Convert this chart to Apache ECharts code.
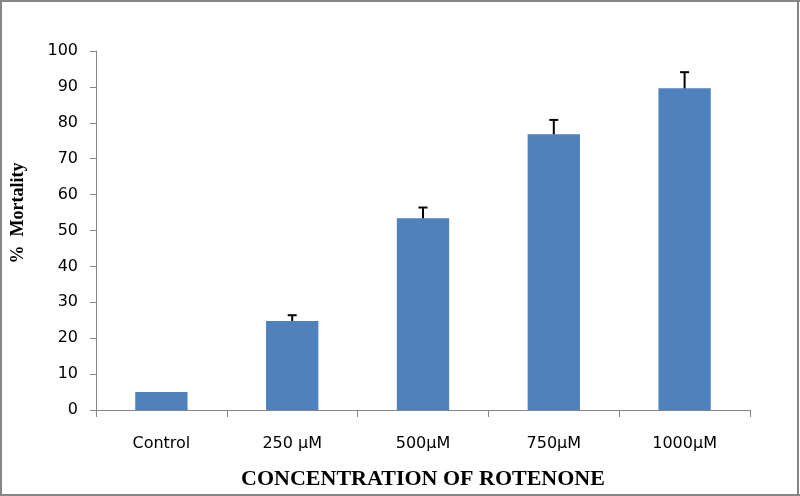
<!DOCTYPE html>
<html>
<head>
<meta charset="utf-8">
<script src="https://cdn.jsdelivr.net/npm/echarts@6/dist/echarts.min.js"></script>
<style>
html,body{margin:0;padding:0;background:#fff;}
#c{width:800px;height:496px;}
</style>
</head>
<body>
<div id="c"></div>
<script>
const categories = ['Control', '250 µM', '500µM', '750µM', '1000µM'];
const mortality = [5, 24.8, 53.4, 76.8, 89.6];
const errorUpper = [5, 26.4, 56.4, 80.8, 94.1];
const yTicks = [0, 10, 20, 30, 40, 50, 60, 70, 80, 90, 100];
const xTitle = 'CONCENTRATION OF ROTENONE';
const yTitle = '%  Mortality';

const chart = echarts.init(document.getElementById('c'), null, {renderer: 'canvas'});
const axisGray = '#868686';
chart.setOption({
  animation: false,
  backgroundColor: '#fff',
  graphic: [
    {type: 'line', shape: {x1: 0, y1: 1, x2: 800, y2: 1}, style: {stroke: axisGray, lineWidth: 2}, silent: true, z: 100},
    {type: 'line', shape: {x1: 0, y1: 495, x2: 800, y2: 495}, style: {stroke: axisGray, lineWidth: 2}, silent: true, z: 100},
    {type: 'line', shape: {x1: 1, y1: 0, x2: 1, y2: 496}, style: {stroke: axisGray, lineWidth: 2}, silent: true, z: 100},
    {type: 'line', shape: {x1: 798, y1: 0, x2: 798, y2: 496}, style: {stroke: axisGray, lineWidth: 2}, silent: true, z: 100},
    {type: 'text', x: 423, y: 479, style: {text: xTitle, fontFamily: 'Liberation Serif', fontWeight: 'bold', fontSize: 22, fill: '#000', align: 'center', verticalAlign: 'middle'}, silent: true},
    {type: 'text', x: 18, y: 213, rotation: Math.PI / 2, style: {text: yTitle, fontFamily: 'Liberation Serif', fontWeight: 'bold', fontSize: 18, fill: '#000', align: 'center', verticalAlign: 'middle'}, silent: true}
  ],
  grid: {left: 96, right: 50, top: 51, bottom: 86, containLabel: false, outerBoundsMode: 'none'},
  xAxis: {
    type: 'category',
    data: categories,
    axisLine: {lineStyle: {color: axisGray, width: 1}},
    axisTick: {show: true, alignWithLabel: false, length: 7, lineStyle: {color: axisGray}},
    axisLabel: {fontFamily: 'DejaVu Sans', fontSize: 16, color: '#000', margin: 26}
  },
  yAxis: {
    type: 'value',
    min: yTicks[0], max: yTicks[yTicks.length - 1], interval: 10,
    axisLine: {show: true, lineStyle: {color: axisGray, width: 1}},
    axisTick: {show: true, length: 6, lineStyle: {color: axisGray}},
    axisLabel: {fontFamily: 'DejaVu Sans', fontSize: 16, color: '#000', margin: 18},
    splitLine: {show: false}
  },
  series: [{
    type: 'bar',
    data: mortality,
    barWidth: '40%',
    itemStyle: {color: '#4f81bd'}
  }, {
    type: 'custom',
    data: categories.map((c, i) => [i, mortality[i], errorUpper[i]]),
    renderItem: function (params, api) {
      const x = api.value(0);
      const low = api.coord([x, api.value(1)]);
      const high = api.coord([x, api.value(2)]);
      if (Math.abs(low[1] - high[1]) < 0.5) return null;
      const hw = 4.5;
      return {
        type: 'group',
        children: [
          {type: 'line', shape: {x1: low[0], y1: low[1], x2: high[0], y2: high[1]}, style: {stroke: '#000', lineWidth: 2}},
          {type: 'line', shape: {x1: high[0] - hw, y1: high[1], x2: high[0] + hw, y2: high[1]}, style: {stroke: '#000', lineWidth: 2}}
        ]
      };
    },
    z: 10
  }]
});
</script>
</body>
</html>
